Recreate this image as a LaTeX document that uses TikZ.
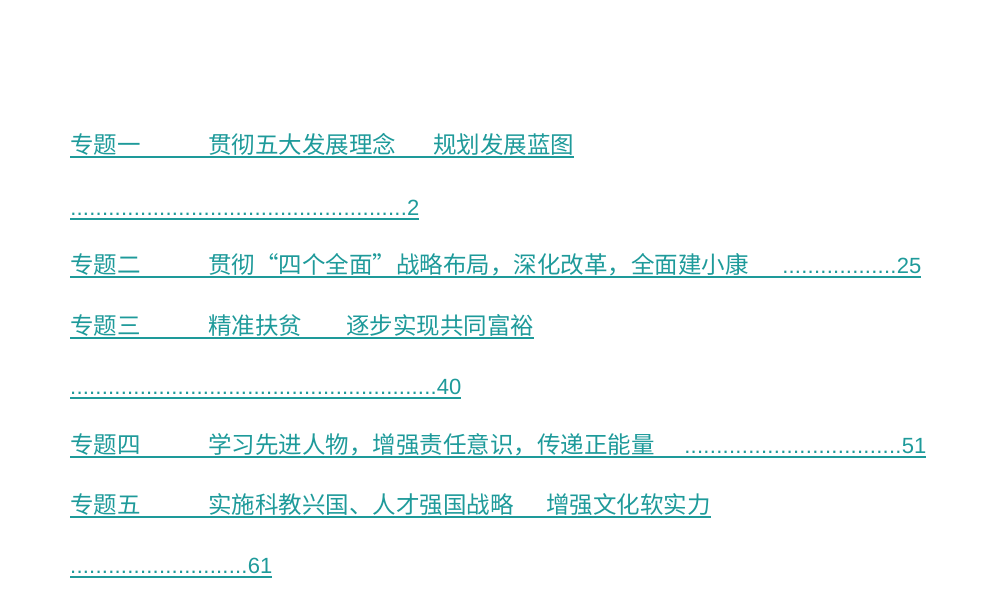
\documentclass[tikz,border=0pt]{standalone}
\usepackage{fontspec}
\setmainfont{Liberation Sans}
\newfontfamily\cjk{Noto Sans CJK SC}
\definecolor{tl}{HTML}{1E9A9A}
\begin{document}
\begin{tikzpicture}[x=1pt,y=-1pt,
  t/.style={anchor=base west,inner sep=0,text=tl,font=\cjk\fontsize{23.5}{23.5}\selectfont},
  d/.style={anchor=base west,inner sep=0,text=tl,font=\fontsize{22}{22}\selectfont},
  ul/.style={draw=tl,line width=1.1pt}]
\useasboundingbox (0,0) rectangle (1000,600);
\newcommand\dl[2]{\makebox[#1pt][l]{\xleaders\hbox to 6.3pt{.\hss}\hfill#2}}
% row 1
\node[t] (a1) at (70,153) {专题一};
\node[t] (a2) at (208,153) {贯彻五大发展理念};
\node[t] (a3) at (433,153) {规划发展蓝图};
\draw[ul] ([yshift=-4pt]a1.base west) -- ([yshift=-4pt]a3.base east);
\node[d] (b1) at (70,215) {\dl{349}{2}};
\draw[ul] ([yshift=-4pt]b1.base west) -- ([yshift=-4pt]b1.base east);
% row 2
\node[t] (c1) at (70,273) {专题二};
\node[t] (c2) at (208,273) {贯彻“四个全面”战略布局，深化改革，全面建小康};
\node[d] (c3) at (782,273) {\dl{139}{25}};
\draw[ul] ([yshift=-4pt]c1.base west) -- ([yshift=-4pt]c3.base east);
% row 3
\node[t] (e1) at (70,334) {专题三};
\node[t] (e2) at (208,334) {精准扶贫};
\node[t] (e3) at (346,334) {逐步实现共同富裕};
\draw[ul] ([yshift=-4pt]e1.base west) -- ([yshift=-4pt]e3.base east);
\node[d] (f1) at (70,394) {\dl{391}{40}};
\draw[ul] ([yshift=-4pt]f1.base west) -- ([yshift=-4pt]f1.base east);
% row 4
\node[t] (g1) at (70,453) {专题四};
\node[t] (g2) at (208,453) {学习先进人物，增强责任意识，传递正能量};
\node[d] (g3) at (684,453) {\dl{242}{51}};
\draw[ul] ([yshift=-4pt]g1.base west) -- ([yshift=-4pt]g3.base east);
% row 5
\node[t] (h1) at (70,513) {专题五};
\node[t] (h2) at (208,513) {实施科教兴国、人才强国战略};
\node[t] (h3) at (546,513) {增强文化软实力};
\draw[ul] ([yshift=-4pt]h1.base west) -- ([yshift=-4pt]h3.base east);
\node[d] (k1) at (70,573) {\dl{202}{61}};
\draw[ul] ([yshift=-4pt]k1.base west) -- ([yshift=-4pt]k1.base east);
\end{tikzpicture}
\end{document}
